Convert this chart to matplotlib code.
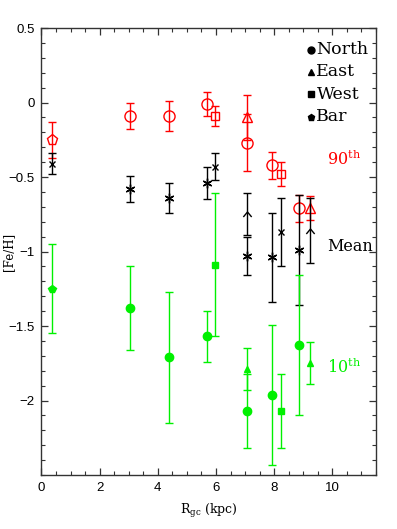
import matplotlib
matplotlib.use("Agg")
import matplotlib.pyplot as plt
from matplotlib.path import Path
from matplotlib.ticker import MultipleLocator

plt.rcParams["mathtext.fontset"] = "dejavuserif"

# 90th percentile (red)
north90_x = [3.04, 4.39, 5.70, 7.07, 7.94, 8.85]
north90_y = [-0.09, -0.09, -0.01, -0.27, -0.42, -0.71]
north90_e = [0.09, 0.10, 0.08, 0.19, 0.09, 0.09]
east90_x = [7.07, 9.23]
east90_y = [-0.10, -0.71]
east90_e = [0.15, 0.08]
west90_x = [5.95, 8.24]
west90_y = [-0.09, -0.48]
west90_e = [0.07, 0.08]
bar90_x = [0.35]
bar90_y = [-0.25]
bar90_e = [0.12]

# mean (black)
northM_y = [-0.58, -0.64, -0.54, -1.03, -1.04, -0.99]
northM_e = [0.09, 0.10, 0.11, 0.13, 0.30, 0.37]
eastM_y = [-0.75, -0.86]
eastM_e = [0.14, 0.22]
westM_y = [-0.43, -0.87]
westM_e = [0.09, 0.23]
barM_y = [-0.41]
barM_e = [0.07]

# 10th percentile (green)
north10_y = [-1.38, -1.71, -1.57, -2.07, -1.96, -1.63]
north10_e = [0.28, 0.44, 0.17, 0.25, 0.47, 0.47]
east10_y = [-1.79, -1.75]
east10_e = [0.14, 0.14]
west10_y = [-1.09, -2.07]
west10_e = [0.48, 0.25]
bar10_y = [-1.25]
bar10_e = [0.30]

legend_labels = ["North", "East", "West", "Bar"]
legend_markers = ["o", "^", "s", "p"]

RED = "#ff0000"
GREEN = "#00f000"
caret = Path([(-1, -0.6), (0, 0.6), (1, -0.6)], [Path.MOVETO, Path.LINETO, Path.LINETO])
asterisk = (6, 2, 0)

fig = plt.figure(figsize=(3.97, 5.29), dpi=100)
ax = fig.add_axes([0.1045, 0.102, 0.8425, 0.845])


def eb(x, y, e, color, marker, ms, filled, mew=1.0):
    ax.errorbar(x, y, yerr=e, fmt="none", ecolor=color, elinewidth=1.0,
                capsize=3, capthick=1.0)
    ax.plot(x, y, linestyle="none", marker=marker, ms=ms, color=color,
            markerfacecolor=color if filled else "none", markeredgewidth=mew)


# red 90th
eb(north90_x, north90_y, north90_e, RED, "o", 8, False)
eb(east90_x, east90_y, east90_e, RED, "^", 7, False)
eb(west90_x, west90_y, west90_e, RED, "s", 6, False)
eb(bar90_x, bar90_y, bar90_e, RED, "p", 8, False)

# black mean
eb(north90_x, northM_y, northM_e, "k", asterisk, 7, False)
eb(east90_x, eastM_y, eastM_e, "k", caret, 6, False)
eb(west90_x, westM_y, westM_e, "k", "x", 5, False)
eb(bar90_x, barM_y, barM_e, "k", "x", 5, False)

# green 10th
eb(north90_x, north10_y, north10_e, GREEN, "o", 6, True)
eb(east90_x, east10_y, east10_e, GREEN, "^", 5, True)
eb(west90_x, west10_y, west10_e, GREEN, "s", 4.5, True)
eb(bar90_x, bar10_y, bar10_e, GREEN, "p", 6, True)

ax.set_xlim(0, 11.5)
ax.set_ylim(-2.5, 0.5)
ax.xaxis.set_major_locator(MultipleLocator(2))
ax.xaxis.set_minor_locator(MultipleLocator(0.5))
ax.yaxis.set_major_locator(MultipleLocator(0.5))
ax.yaxis.set_minor_locator(MultipleLocator(0.1))
ax.set_yticks([0.5, 0, -0.5, -1, -1.5, -2])
ax.set_yticklabels(["0.5", "0", "\u22120.5", "\u22121", "\u22121.5", "\u22122"])
ax.tick_params(which="both", direction="in", top=True, right=True, color="#333333",
               labelsize=9.5, pad=5)
ax.tick_params(which="major", length=5, width=0.9)
ax.tick_params(which="minor", length=3, width=0.8)
for lbl in ax.get_xticklabels() + ax.get_yticklabels():
    lbl.set_family("Liberation Sans")
for sp in ax.spines.values():
    sp.set_color("#333333")
    sp.set_linewidth(1.0)

ax.set_xlabel(r"R$_{\rm gc}$ (kpc)", family="DejaVu Serif", fontsize=9, labelpad=6)
ax.set_ylabel("[Fe/H]", family="DejaVu Serif", fontsize=8.5, va="center")
ax.yaxis.set_label_coords(-0.098, 0.5)

# legend drawn by hand
rows = [0.951, 0.902, 0.852, 0.802]
for yy, lab, m in zip(rows, legend_labels, legend_markers):
    ax.plot(0.805, yy, marker=m, ms=5, color="k", transform=ax.transAxes, clip_on=False)
    ax.text(0.822, yy, lab, transform=ax.transAxes, family="DejaVu Serif",
            fontsize=12.5, va="center", ha="left")

ax.text(9.83, -0.38, r"90$^{\rm th}$", color=RED, family="DejaVu Serif",
        fontsize=11.5, va="center", ha="left")
ax.text(9.83, -0.965, "Mean", color="k", family="DejaVu Serif",
        fontsize=11.5, va="center", ha="left")
ax.text(9.83, -1.78, r"10$^{\rm th}$", color=GREEN, family="DejaVu Serif",
        fontsize=11.5, va="center", ha="left")

fig.savefig("out.png", dpi=100)
